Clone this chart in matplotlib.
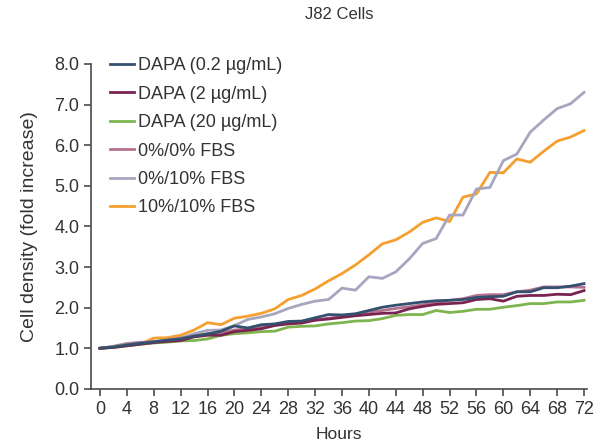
import matplotlib
matplotlib.use("Agg")
from matplotlib import pyplot as plt
import numpy as np

plt.rcParams['font.family'] = ['Liberation Sans', 'DejaVu Sans']

# sampling times (hours)
hours = list(range(0, 73, 2))

dapa_02 = [1.00, 1.03, 1.08, 1.12, 1.16, 1.20, 1.23, 1.30, 1.35, 1.42, 1.55, 1.50, 1.58,
           1.60, 1.66, 1.67, 1.75, 1.83, 1.82, 1.85, 1.93, 2.01, 2.06, 2.10, 2.14, 2.17,
           2.18, 2.20, 2.25, 2.27, 2.28, 2.39, 2.39, 2.49, 2.49, 2.53, 2.59]
dapa_2 = [1.00, 1.02, 1.06, 1.10, 1.14, 1.17, 1.19, 1.28, 1.32, 1.32, 1.41, 1.44, 1.48,
          1.56, 1.60, 1.62, 1.69, 1.72, 1.76, 1.80, 1.83, 1.86, 1.87, 1.97, 2.03, 2.08,
          2.10, 2.12, 2.20, 2.22, 2.16, 2.28, 2.30, 2.30, 2.33, 2.32, 2.42]
dapa_20 = [1.00, 1.03, 1.07, 1.10, 1.13, 1.15, 1.18, 1.19, 1.23, 1.32, 1.36, 1.38, 1.41,
           1.42, 1.52, 1.54, 1.55, 1.60, 1.63, 1.67, 1.68, 1.73, 1.81, 1.83, 1.83, 1.93,
           1.88, 1.91, 1.96, 1.96, 2.01, 2.05, 2.10, 2.10, 2.14, 2.14, 2.18]
fbs_0_0 = [1.00, 1.04, 1.10, 1.14, 1.16, 1.20, 1.25, 1.30, 1.36, 1.38, 1.45, 1.48, 1.53,
           1.57, 1.63, 1.65, 1.70, 1.74, 1.78, 1.83, 1.89, 1.93, 1.98, 2.02, 2.07, 2.12,
           2.18, 2.22, 2.30, 2.32, 2.32, 2.39, 2.43, 2.51, 2.51, 2.51, 2.50]
fbs_0_10 = [1.00, 1.05, 1.12, 1.15, 1.15, 1.20, 1.25, 1.36, 1.44, 1.45, 1.56, 1.71, 1.77,
            1.85, 1.98, 2.08, 2.16, 2.20, 2.48, 2.43, 2.76, 2.72, 2.88, 3.20, 3.58, 3.70,
            4.28, 4.28, 4.92, 4.96, 5.62, 5.78, 6.32, 6.62, 6.90, 7.02, 7.30]
fbs_10_10 = [1.00, 1.02, 1.06, 1.10, 1.25, 1.26, 1.32, 1.45, 1.63, 1.58, 1.74, 1.79, 1.86,
             1.97, 2.20, 2.30, 2.46, 2.66, 2.84, 3.05, 3.30, 3.57, 3.67, 3.86, 4.10, 4.21,
             4.12, 4.72, 4.80, 5.33, 5.32, 5.66, 5.58, 5.85, 6.10, 6.20, 6.36]

labels = ['DAPA (0.2 µg/mL)', 'DAPA (2 µg/mL)', 'DAPA (20 µg/mL)',
          '0%/0% FBS', '0%/10% FBS', '10%/10% FBS']
colors = ['#33506f', '#7b2350', '#7db54f', '#b5728f', '#a6a6bf', '#f5a02e']

fig = plt.figure(figsize=(6.08, 4.47), dpi=100)
ax = fig.add_axes([0.15, 0.13, 0.815, 0.727])

series = [dapa_02, dapa_2, dapa_20, fbs_0_0, fbs_0_10, fbs_10_10]
# draw in reverse so the dark lines sit on top, legend keeps order
handles = [None] * 6
for i in range(5, -1, -1):
    h, = ax.plot(hours, series[i], color=colors[i], lw=2.0, label=labels[i])
    handles[i] = h

ax.set_xlim(-1.3, 72.4)
ax.set_ylim(0, 8.0)
ax.set_xticks(range(0, 73, 4))
ax.set_yticks(np.arange(0, 8.1, 1.0))
ax.set_yticklabels(['%.1f' % v for v in np.arange(0, 8.1, 1.0)])

for s in ['top', 'right']:
    ax.spines[s].set_visible(False)
for s in ['left', 'bottom']:
    ax.spines[s].set_color('#4a4a4a')
    ax.spines[s].set_linewidth(1.2)
ax.tick_params(colors='#4a4a4a', labelcolor='#333333', labelsize=13, length=5, width=1.2)

ax.set_xlabel('Hours', fontsize=12.5, color='#333333', labelpad=7)
ax.set_ylabel('Cell density (fold increase)', fontsize=14, color='#333333', labelpad=12)
ax.set_title('J82 Cells', fontsize=12, color='#333333', pad=32)

ax.legend(handles, labels, loc='upper left', bbox_to_anchor=(0.006, 1.07), frameon=False,
          fontsize=13, handlelength=1.3, handletextpad=0.25, labelspacing=0.63,
          labelcolor='#333333')

fig.savefig('out.png', dpi=100)
